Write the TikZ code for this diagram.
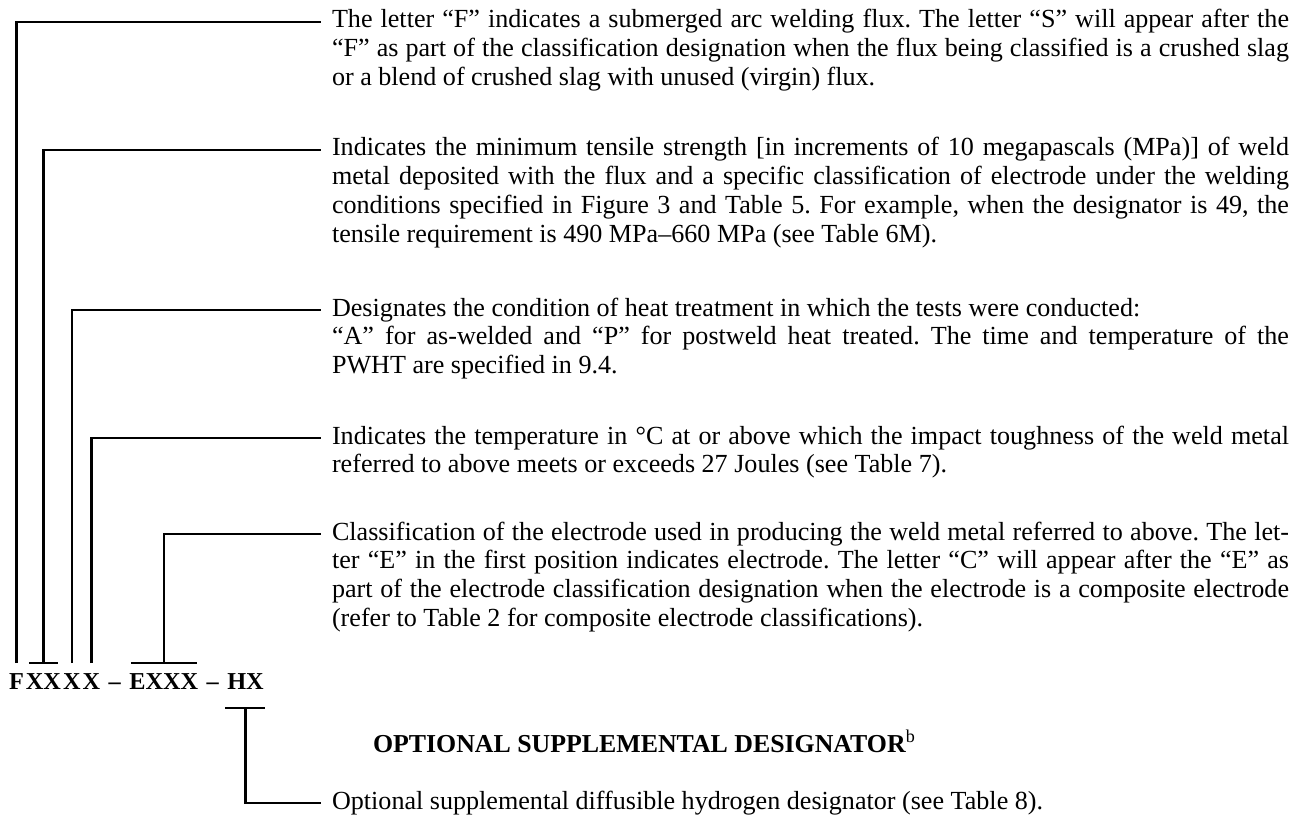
\documentclass[tikz,border=0pt]{standalone}
\usepackage{fontspec}
\setmainfont{Liberation Serif}
\usetikzlibrary{positioning}
\frenchspacing
\hyphenpenalty=10000\relax

\begin{document}
\begin{tikzpicture}[x=0.3831pt, y=-0.3831pt, line width=0.8pt, font=\fontsize{10pt}{11.1pt}\selectfont]
  \tikzset{code/.style={font=\fontsize{9.3pt}{11.1pt}\selectfont\bfseries, inner sep=0pt, anchor=base west},head/.style={font=\fontsize{9.9pt}{11.1pt}\selectfont\bfseries, inner sep=0pt, anchor=base west},desc/.style={anchor=base west, inner sep=0pt, text width=366.6pt, align=justify}}
  \useasboundingbox (0,0) rectangle (1305,821);
  % designation, one node per group of letters
  \node[code] (cF) at (8,689) {F};
  \node[code] (cXX) at (cF.base east) {XX};
  \node[code] (cX3) at (cXX.base east) {X};
  \node[code] (cX4) at (cX3.base east) {X};
  \node[code] (cD1) at (cX4.base east) {\kern2.45pt--\kern2.45pt};
  \node[code] (cE) at (cD1.base east) {EXXX};
  \node[code] (cD2) at (cE.base east) {\kern2.45pt--\kern2.45pt};
  \node[code] (cH) at (cD2.base east) {HX};
  % explanations
  \node[desc] (dF) at (331,28) {The letter “F” indicates a submerged arc welding flux. The letter “S” will appear after the\linebreak “F” as part of the classification designation when the flux being classified is a crushed slag\linebreak or a blend of crushed slag with unused (virgin) flux.};
  \node[desc] (dXX) at (331,156) {Indicates the minimum tensile strength [in increments of 10 megapascals (MPa)] of weld\linebreak metal deposited with the flux and a specific classification of electrode under the welding\linebreak conditions specified in Figure 3 and Table 5. For example, when the designator is 49, the\linebreak tensile requirement is 490 MPa--660 MPa (see Table 6M).};
  \node[desc] (dX3) at (331,316) {Designates the condition of heat treatment in which the tests were conducted:\\“A” for as-welded and “P” for postweld heat treated. The time and temperature of the\linebreak PWHT are specified in 9.4.};
  \node[desc] (dX4) at (331,444) {Indicates the temperature in °C at or above which the impact toughness of the weld metal\linebreak referred to above meets or exceeds 27 Joules (see Table 7).};
  \node[desc] (dE) at (331,540) {Classification of the electrode used in producing the weld metal referred to above. The let-\linebreak ter “E” in the first position indicates electrode. The letter “C” will appear after the “E” as\linebreak part of the electrode classification designation when the electrode is a composite electrode\linebreak (refer to Table 2 for composite electrode classifications).};
  \node[head] (opt) at (372,752) {OPTIONAL SUPPLEMENTAL DESIGNATOR\textsuperscript{\mdseries b}};
  \node[desc] (dH) at (331,809) {Optional supplemental diffusible hydrogen designator (see Table 8).};
  % tee points and line ends
  \coordinate (tF) at ([shift={(0,-9)}]cF.north);
  \coordinate (tXX) at ([shift={(0,-9)}]cXX.north);
  \coordinate (tX3) at ([shift={(0,-9)}]cX3.north);
  \coordinate (tX4) at ([shift={(0,-9)}]cX4.north);
  \coordinate (tE) at ([shift={(0,-9)}]cE.north);
  \coordinate (tH) at ([shift={(0,18)}]cH.south);
  \foreach \d in {F,XX,X3,X4,E,H}
    \coordinate (e\d) at ([shift={(-10,-6)}]d\d.base west);
  % leaders
  \foreach \d in {F,XX,X3,X4,E,H}
    \draw (t\d) |- (e\d);
  \draw ([xshift=-14.5*0.3831pt]tXX) -- ([xshift=14.5*0.3831pt]tXX);
  \draw ([xshift=-33*0.3831pt]tE) -- ([xshift=33*0.3831pt]tE);
  \draw ([xshift=-20*0.3831pt]tH) -- ([xshift=20*0.3831pt]tH);
\end{tikzpicture}
\end{document}
